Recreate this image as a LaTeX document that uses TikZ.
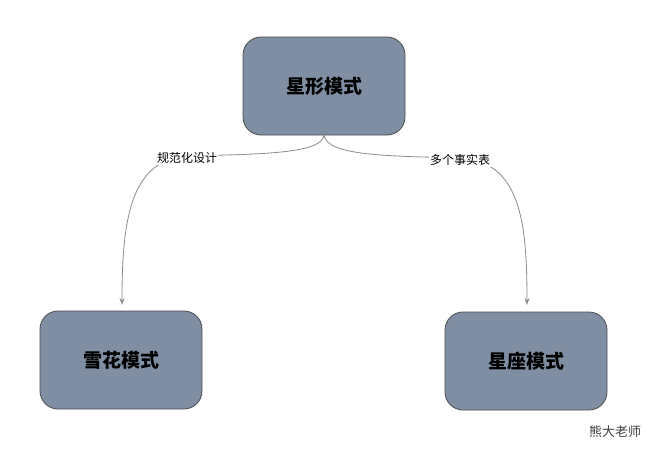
\documentclass[tikz,border=0pt]{standalone}
\usepackage{fontspec}
\setmainfont{Noto Sans CJK SC}
\usetikzlibrary{arrows.meta}
\begin{document}
\begin{tikzpicture}[x=1pt,y=-1pt,
  box/.style={draw=black!70,line width=0.8pt,fill={rgb,255:red,127;green,142;blue,163},rounded corners=18pt,minimum width=162pt,minimum height=98pt,font=\fontsize{19}{19}\selectfont\bfseries},
  conn/.style={draw=black!45,line width=0.8pt,-{Stealth[length=7pt,width=5pt]}},
  lab/.style={fill=white,inner sep=1pt,font=\fontsize{12}{12}\selectfont}]
\useasboundingbox[fill=white] (0,0) rectangle (662,450);
\node[box] (top) at (324,86) {星形模式};
\node[box] (left) at (121,360) {雪花模式};
\node[box] (right) at (526,361) {星座模式};
\coordinate (tb) at (324,135);
\coordinate (c1) at (190,156);
\coordinate (c2) at (458,158);
\draw[conn] (tb) .. controls (322,154) and (260,154) .. (c1) .. controls (130,158) and (122,220) .. (122,305);
\draw[conn] (tb) .. controls (326,156) and (390,156) .. (c2) .. controls (520,160) and (527,220) .. (527,305);
\node[lab] (l1) at (187,158) {规范化设计};
\node[lab] (l2) at (460,160) {多个事实表};
\node[font=\fontsize{13}{13}\selectfont,text=black!75] (wm) at (615,432) {熊大老师};
\end{tikzpicture}
\end{document}
